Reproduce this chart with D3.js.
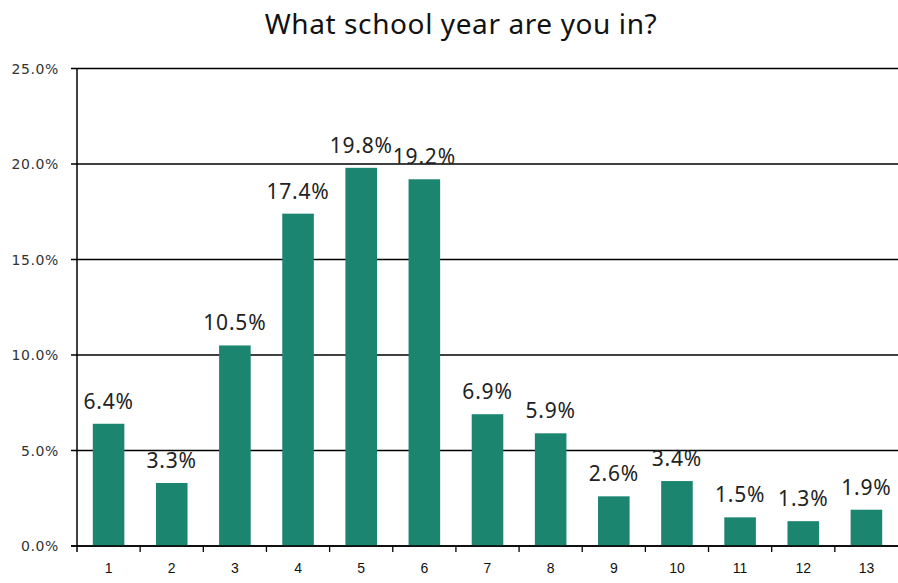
<!DOCTYPE html>
<html><head><meta charset="utf-8">
<script src="https://cdn.jsdelivr.net/npm/d3@7"></script>
<style>body{margin:0;background:#fff}svg{display:block}</style>
</head><body>
<svg id="c" width="898" height="583"></svg>
<script>
const categories = ["1","2","3","4","5","6","7","8","9","10","11","12","13"];
const values = [6.4, 3.3, 10.5, 17.4, 19.8, 19.2, 6.9, 5.9, 2.6, 3.4, 1.5, 1.3, 1.9];
const yTicks = [0, 5, 10, 15, 20, 25];
const title = "What school year are you in?";

const svg = d3.select("#c");
const m = {left: 77, right: 898, top: 68.5, bottom: 546};
const x = d3.scaleBand().domain(categories).range([m.left, m.right]).paddingInner(0.5).paddingOuter(0.25);
const xb = d3.scaleBand().domain(categories).range([m.left, m.right]);
const y = d3.scaleLinear().domain([0, 25]).range([m.bottom, m.top]);

svg.append("text").attr("x", 461).attr("y", 34).attr("text-anchor", "middle")
  .attr("font-family", "Noto Sans, sans-serif").attr("font-size", 28).attr("letter-spacing", 0.6)
  .attr("fill", "#111").text(title);

// gridlines
svg.append("g").selectAll("line").data(yTicks).join("line")
  .attr("x1", 71).attr("x2", m.right).attr("y1", d => y(d)).attr("y2", d => y(d))
  .attr("stroke", "#000").attr("stroke-width", 1.3);

svg.append("g").selectAll("text").data(yTicks).join("text")
  .attr("x", 59).attr("y", d => y(d) + 5).attr("text-anchor", "end")
  .attr("font-family", "DejaVu Sans, sans-serif").attr("font-size", 14).attr("letter-spacing", 0.6)
  .attr("fill", "#333")
  .text(d => d.toFixed(1) + "%");

// bars
svg.append("g").selectAll("rect").data(values).join("rect")
  .attr("x", (d, i) => x(categories[i])).attr("width", x.bandwidth())
  .attr("y", d => y(d)).attr("height", d => y(0) - y(d))
  .attr("fill", "#1c8570");

// value labels
svg.append("g").selectAll("text").data(values).join("text")
  .attr("x", (d, i) => x(categories[i]) + x.bandwidth() / 2).attr("y", d => y(d) - 15)
  .attr("text-anchor", "middle").attr("font-family", "Noto Sans, sans-serif").attr("font-size", 21)
  .attr("letter-spacing", 0.8).attr("fill", "#222").text(d => d.toFixed(1) + "%");

// y axis line
svg.append("line").attr("x1", m.left).attr("x2", m.left).attr("y1", m.top).attr("y2", m.bottom + 6)
  .attr("stroke", "#000").attr("stroke-width", 1.5);
// x axis baseline
svg.append("line").attr("x1", 71).attr("x2", m.right).attr("y1", m.bottom).attr("y2", m.bottom)
  .attr("stroke", "#000").attr("stroke-width", 1.5);
// x tick marks at band boundaries
svg.append("g").selectAll("line").data(categories.slice(1)).join("line")
  .attr("x1", d => xb(d)).attr("x2", d => xb(d)).attr("y1", m.bottom).attr("y2", m.bottom + 6)
  .attr("stroke", "#000").attr("stroke-width", 1.3);
svg.append("g").selectAll("text").data(categories).join("text")
  .attr("x", d => xb(d) + xb.bandwidth() / 2).attr("y", 573).attr("text-anchor", "middle")
  .attr("font-family", "Liberation Sans, Arial, sans-serif").attr("font-size", 14).attr("fill", "#111")
  .text(d => d);
</script>
</body></html>
